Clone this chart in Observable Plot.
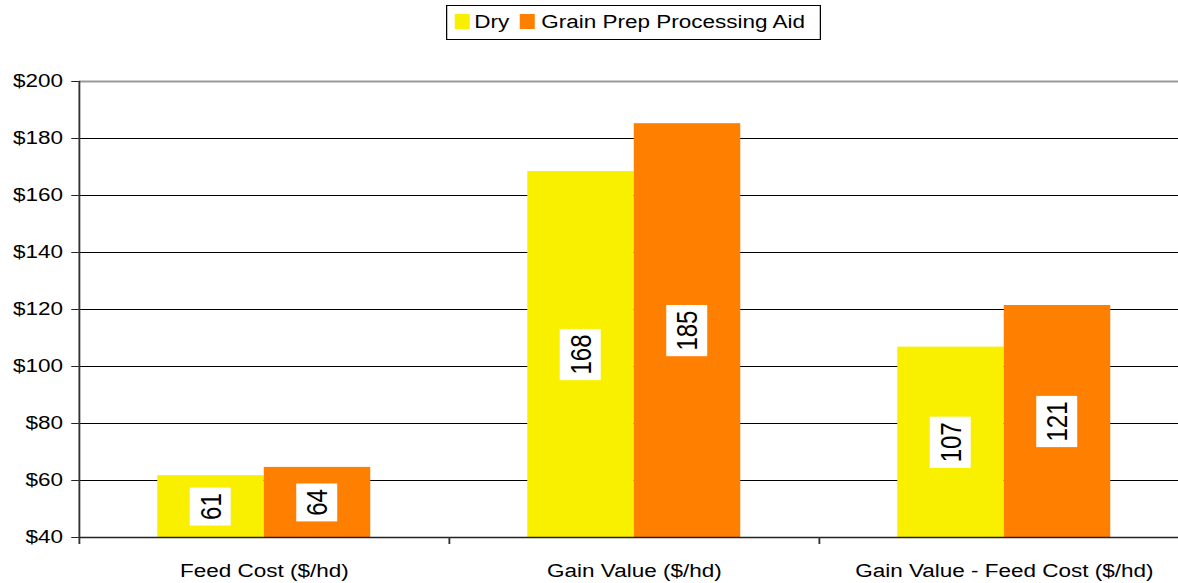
<!DOCTYPE html>
<html>
<head>
<meta charset="utf-8">
<script src="https://cdn.jsdelivr.net/npm/d3@7"></script>
<script src="https://cdn.jsdelivr.net/npm/@observablehq/plot@0.6"></script>
<style>
  html, body { margin: 0; padding: 0; background: #fff; overflow: hidden; width: 1178px; height: 583px; }
  #legend { position: relative; height: 46px; }
  #legend .box {
    position: absolute; left: 446px; top: 5px; width: 300px; height: 35px;
    box-sizing: border-box; border: 1px solid #000; background: #fff;
    transform: scaleX(1.25); transform-origin: 0 0;
    font-family: "Liberation Sans", Arial, sans-serif; font-size: 18px; color: #000;
  }
  #legend .sw { position: absolute; top: 8px; width: 12px; height: 15px; }
  #legend .lb { position: absolute; top: 6px; line-height: 21px; white-space: nowrap; }
  #chart { height: 537px; }
</style>
</head>
<body>
<div id="legend"></div>
<div id="chart"></div>
<script>
// ---- data ----
const categories = ["Feed Cost ($/hd)", "Gain Value ($/hd)", "Gain Value - Feed Cost ($/hd)"];
const series = ["Dry", "Grain Prep Processing Aid"];
const dryValues = [61.7, 168.4, 106.8];
const aidValues = [64.6, 185.2, 121.4];
const dryLabels = ["61", "168", "107"];
const aidLabels = ["64", "185", "121"];
const yTicks = [40, 60, 80, 100, 120, 140, 160, 180, 200];
const colors = ["#F9F000", "#FF7F00"];

const rows = categories.flatMap((c, i) => [
  {category: c, series: series[0], value: dryValues[i], label: dryLabels[i]},
  {category: c, series: series[1], value: aidValues[i], label: aidLabels[i]}
]);

// ---- legend ----
const box = document.createElement("div");
box.className = "box";
const legendLayout = [
  {sw: 5.6, lb: 21.6},
  {sw: 58.4, lb: 75.2}
];
series.forEach((s, i) => {
  const sw = document.createElement("div");
  sw.className = "sw";
  sw.style.left = legendLayout[i].sw + "px";
  sw.style.background = colors[i];
  const lb = document.createElement("div");
  lb.className = "lb";
  lb.style.left = legendLayout[i].lb + "px";
  lb.textContent = s;
  box.append(sw, lb);
});
document.getElementById("legend").append(box);

// ---- chart ----
const SX = 1.25;            // horizontal stretch of the reference
const W = 951, H = 537, ML = 63, MT = 35, MB = 46;
const bw = (W - ML) / categories.length;
const barW = 85.2;
const outer = (bw - 2 * barW) / 2;
const y0 = yTicks[0];

const svg = Plot.plot({
  width: W, height: H,
  marginLeft: ML, marginRight: 0, marginTop: MT, marginBottom: MB,
  style: {fontFamily: "Liberation Sans, Arial, sans-serif", fontSize: "18px", color: "#000", background: "#fff", overflow: "visible"},
  x: {domain: categories, padding: 0, label: null},
  y: {domain: [yTicks[0], yTicks[yTicks.length - 1]], label: null},
  marks: [
    Plot.ruleY(yTicks.slice(1, -1), {stroke: "#000", strokeWidth: 1}),
    Plot.ruleY(yTicks.slice(-1), {stroke: "#9a9a9a", strokeWidth: 2}),
    Plot.barY(rows.filter(d => d.series === series[0]), {
      x: "category", y1: y0, y2: "value", fill: colors[0],
      insetLeft: outer, insetRight: outer + barW
    }),
    Plot.barY(rows.filter(d => d.series === series[1]), {
      x: "category", y1: y0, y2: "value", fill: colors[1],
      insetLeft: outer + barW, insetRight: outer
    }),
    Plot.ruleY([y0], {stroke: "#222", strokeWidth: 1.5}),
    Plot.ruleX([categories[0]], {dx: -bw / 2, stroke: "#333", strokeWidth: 1.5}),
    Plot.axisX({tickSize: 7, tickFormat: () => "", label: null, dx: -bw / 2, stroke: "#333", strokeWidth: 1.5}),
    Plot.axisX({tickSize: 0, tickPadding: 27, label: null, fontSize: 18, fill: "#000"}),
    Plot.axisY({ticks: yTicks, tickSize: 6, tickPadding: 7, label: null, tickFormat: d => "$" + d, fontSize: 18, fill: "#000", stroke: "#222"}),
    Plot.text(rows.filter(d => d.series === series[0]), {
      x: "category", y: d => (y0 + d.value) / 2, text: "label",
      rotate: -90, dx: outer + barW / 2 - bw / 2, fontSize: 24, fill: "#000"
    }),
    Plot.text(rows.filter(d => d.series === series[1]), {
      x: "category", y: d => (y0 + d.value) / 2, text: "label",
      rotate: -90, dx: outer + 1.5 * barW - bw / 2, fontSize: 24, fill: "#000"
    })
  ]
});

svg.setAttribute("width", W * SX);
svg.setAttribute("height", H);
svg.setAttribute("preserveAspectRatio", "none");
svg.style.maxWidth = "none";
svg.style.width = (W * SX) + "px";
svg.style.height = H + "px";
document.getElementById("chart").append(svg);

// white boxes behind the bar labels
svg.querySelectorAll('g[aria-label="text"] text').forEach(t => {
  const b = t.getBBox();
  const padAlong = 5.6, padAcross = 2.7;
  const r = document.createElementNS("http://www.w3.org/2000/svg", "rect");
  r.setAttribute("x", b.x - padAlong);
  r.setAttribute("y", b.y - padAcross);
  r.setAttribute("width", b.width + 2 * padAlong);
  r.setAttribute("height", b.height + 2 * padAcross);
  r.setAttribute("fill", "#fff");
  const tr = t.getAttribute("transform");
  if (tr) r.setAttribute("transform", tr);
  t.parentNode.insertBefore(r, t);
});
</script>
</body>
</html>
